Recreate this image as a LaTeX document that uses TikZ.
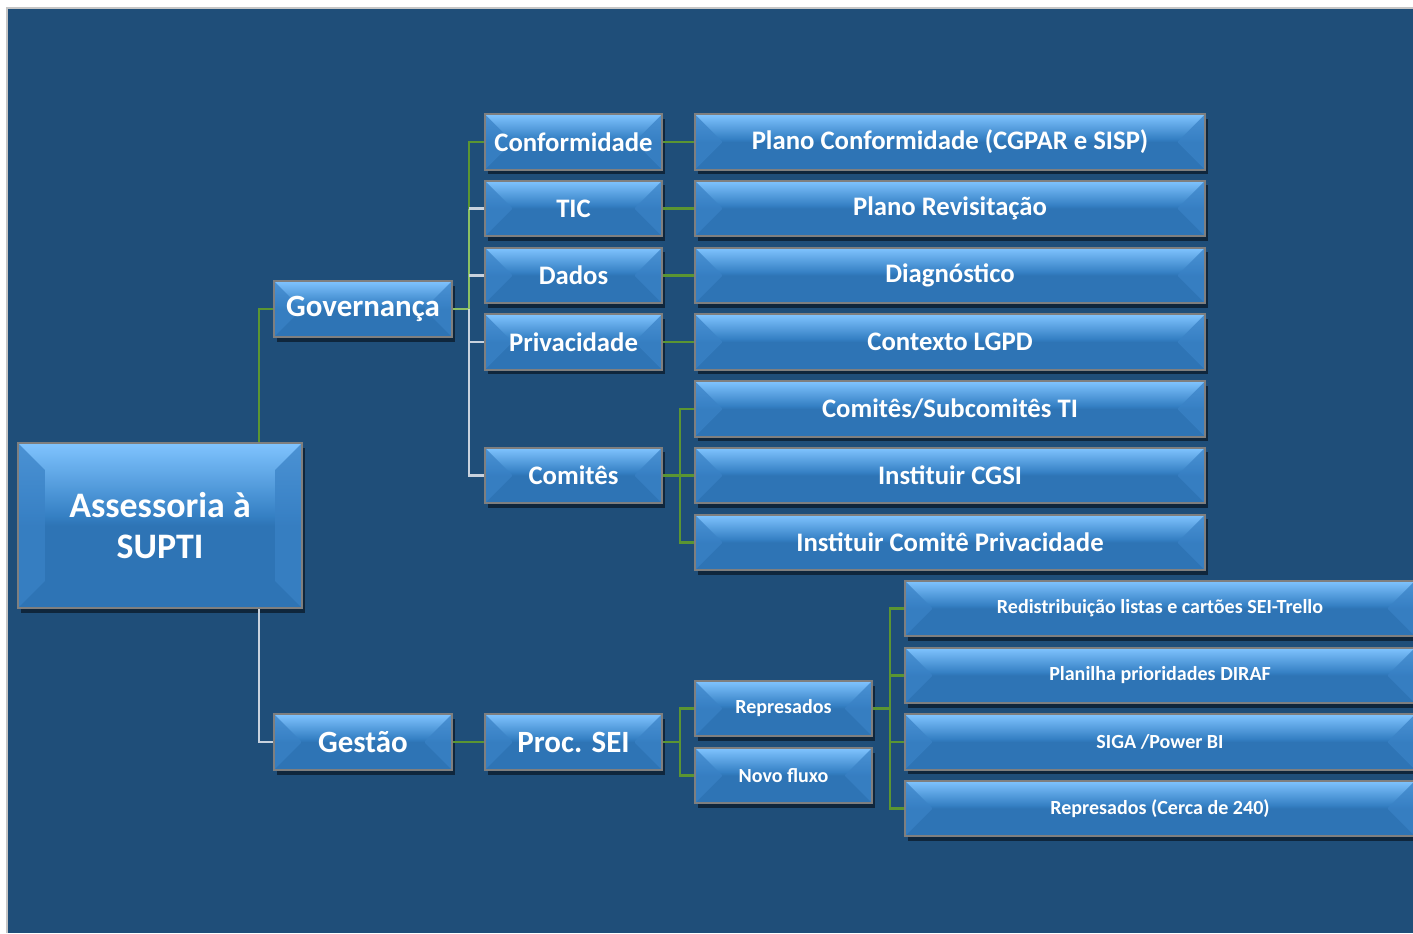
\documentclass[tikz,border=0pt]{standalone}
\usepackage{fontspec}
\setmainfont{Carlito}
\usetikzlibrary{shadows,calc}
\definecolor{bg}{HTML}{1F4E79}
\definecolor{btop}{HTML}{80C4FF}
\definecolor{bmid2}{HTML}{3580C4}
\definecolor{bmid}{HTML}{2E74B5}
\definecolor{bside}{HTML}{3A82C6}
\definecolor{bedge}{HTML}{7F7F7F}
\definecolor{lgreen}{HTML}{5B9532}
\definecolor{lgreen2}{HTML}{8CC063}
\definecolor{lwhite}{HTML}{C8D2DE}
\pgfdeclareverticalshading{bevsh}{100bp}{color(0bp)=(bmid); color(25bp)=(bmid); color(50bp)=(bmid); color(53bp)=(bmid2); color(75bp)=(btop); color(100bp)=(btop)}
\def\bevd{0.27cm}
\tikzset{
  bev/.style={rectangle, draw=bedge, line width=0.6pt, shading=bevsh, inner sep=0pt,
    text=white, align=center,
    drop shadow={shadow xshift=0.9pt, shadow yshift=-1.3pt, opacity=0.5, fill=black},
    path picture={
      \fill[bside, opacity=0.75] (path picture bounding box.north west)
        -- ($(path picture bounding box.north west)+(\bevd,-\bevd)$)
        -- ($(path picture bounding box.south west)+(\bevd,\bevd)$)
        -- (path picture bounding box.south west) -- cycle;
      \fill[bside, opacity=0.75] (path picture bounding box.north east)
        -- ($(path picture bounding box.north east)+(-\bevd,-\bevd)$)
        -- ($(path picture bounding box.south east)+(-\bevd,\bevd)$)
        -- (path picture bounding box.south east) -- cycle;
    }},
  rootbox/.style={bev, minimum width=2.84cm, minimum height=1.65cm, font=\fontsize{10.2}{11.4}\selectfont\bfseries},
  midbox/.style={bev, minimum width=1.78cm, minimum height=0.56cm, font=\fontsize{8.8}{10}\selectfont\bfseries},
  smallbox/.style={bev, minimum width=1.77cm, minimum height=0.555cm, font=\fontsize{7.6}{9}\selectfont\bfseries},
  widebox/.style={bev, minimum width=5.1cm, minimum height=0.555cm, font=\fontsize{7.6}{9}\selectfont\bfseries},
  tinybox/.style={bev, minimum width=1.77cm, minimum height=0.55cm, font=\fontsize{5.7}{7}\selectfont\bfseries},
  farbox/.style={bev, minimum width=5.1cm, minimum height=0.555cm, font=\fontsize{5.7}{7}\selectfont\bfseries},
  gl/.style={draw=lgreen, line width=0.6pt},
  gl2/.style={draw=lgreen2, line width=0.6pt},
  wl/.style={draw=lwhite, line width=0.6pt},
}
\begin{document}
\begin{tikzpicture}[x=0.01cm, y=-0.01cm]
\useasboundingbox (0,0) rectangle (1413,933);
\fill[white] (0,0) rectangle (1413,933);
\fill[bg] (7,8) rectangle (1413,933);
\draw[gray!45, line width=0.4pt] (7,933) -- (7,8) -- (1413,8);

\coordinate (bx1) at (259,0);
\coordinate (bx2) at (469,0);
\coordinate (bx3) at (680,0);
\coordinate (bx4) at (890,0);

% nodes
\node[rootbox] (root) at (160,525.5) {Assessoria à\\SUPTI};
\node[midbox] (gov) at (363,309) {Governança};
\node[midbox] (ges) at (363,742) {Gestão};

\node[smallbox] (conf) at (573.5,142) {Conformidade};
\node[smallbox] (tic) at (573.5,208.5) {TIC};
\node[smallbox] (dados) at (573.5,275.5) {Dados};
\node[smallbox] (priv) at (573.5,342) {Privacidade};
\node[smallbox] (comi) at (573.5,475.5) {Comitês};

\node[widebox] (pc) at (950,142) {Plano Conformidade (CGPAR e SISP)};
\node[widebox] (pr) at (950,208.5) {Plano Revisitação};
\node[widebox] (diag) at (950,275.5) {Diagnóstico};
\node[widebox] (lgpd) at (950,342) {Contexto LGPD};
\node[widebox] (sub) at (950,409) {Comitês/Subcomitês TI};
\node[widebox] (cgsi) at (950,475.5) {Instituir CGSI};
\node[widebox] (cpriv) at (950,542.5) {Instituir Comitê Privacidade};

\node[midbox, minimum width=1.77cm] (sei) at (573.5,742) {Proc. SEI};
\node[tinybox] (rep) at (783.5,708.5) {Represados};
\node[tinybox] (novo) at (783.5,775.5) {Novo fluxo};

\node[farbox] (r1) at (1160,608.5) {Redistribuição listas e cartões SEI-Trello};
\node[farbox] (r2) at (1160,675.5) {Planilha prioridades DIRAF};
\node[farbox] (r3) at (1160,742) {SIGA /Power BI};
\node[farbox] (r4) at (1160,808.5) {Represados (Cerca de 240)};

% connectors
\draw[gl] (root.north -| bx1) |- (gov.west);
\draw[wl] (root.south -| bx1) |- (ges.west);

\draw[gl2] (gov.east) -- (gov.east -| bx2);
\draw[gl] (conf.west) -- (conf.west -| bx2) -- (bx2 |- tic.west);
\draw[gl2] (bx2 |- tic.west) -- (bx2 |- gov.east);
\draw[wl] (bx2 |- gov.east) |- (comi.west);
\draw[wl] (tic.west) -- (tic.west -| bx2);
\draw[wl] (dados.west) -- (dados.west -| bx2);
\draw[wl] (priv.west) -- (priv.west -| bx2);

\draw[gl] (conf.east) -- (pc.west);
\draw[gl] (tic.east) -- (pr.west);
\draw[gl] (dados.east) -- (diag.west);
\draw[gl] (priv.east) -- (lgpd.west);

\draw[gl] (comi.east) -- (cgsi.west);
\draw[gl] (sub.west) -- (sub.west -| bx3) |- (cpriv.west);

\draw[gl] (ges.east) -- (sei.west);
\draw[gl] (sei.east) -- (sei.east -| bx3);
\draw[gl] (rep.west) -- (rep.west -| bx3) |- (novo.west);

\draw[gl] (rep.east) -- (rep.east -| bx4);
\draw[gl] (r1.west) -- (r1.west -| bx4) |- (r4.west);
\draw[gl] (r2.west) -- (r2.west -| bx4);
\draw[gl] (r3.west) -- (r3.west -| bx4);
\end{tikzpicture}
\end{document}
